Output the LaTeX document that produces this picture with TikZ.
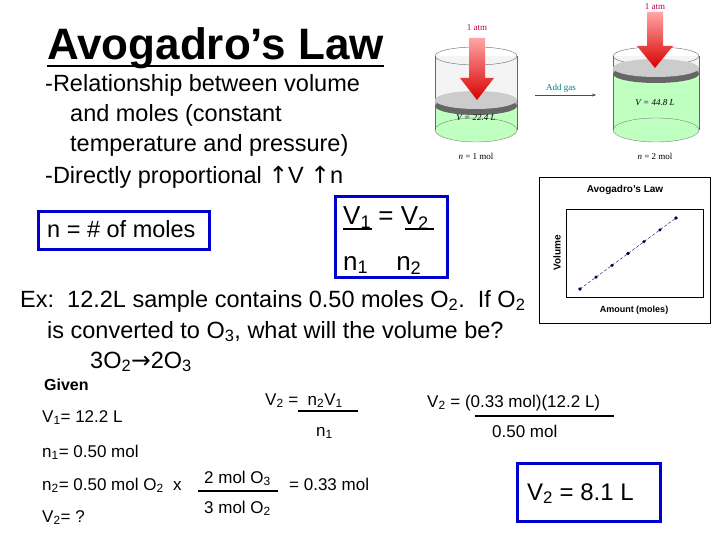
\documentclass[tikz,border=0pt]{standalone}
\usepackage{fontspec}
\setmainfont{Liberation Sans}
\newfontfamily\djv{DejaVu Sans}
\newfontfamily\tms{Liberation Serif}
\usetikzlibrary{arrows.meta}
\newcommand{\sbx}[1]{\textsubscript{#1}}
\begin{document}
\begin{tikzpicture}[x=1pt,y=-1pt,
 big/.style={anchor=base west,inner sep=0,font=\fontsize{23.5}{26}\selectfont},
 sm/.style={anchor=base west,inner sep=0,font=\fontsize{17}{19}\selectfont},
 small/.style={anchor=base,inner sep=0,font=\tms\fontsize{9}{10}\selectfont},
 bluebox/.style={draw=blue!80!black,line width=3pt},
 bar/.style={line width=1.2pt}]
\useasboundingbox (0,0) rectangle (720,540);
% title
\node[anchor=base west,inner sep=0,font=\bfseries\fontsize{44}{46}\selectfont] (title) at (47,60) {Avogadro’s Law};
\draw[line width=2pt] (47,66) -- (title.east |- 0,66);
\node[big] (l1) at (45,92) {-Relationship between volume};
\node[big] (l2) at (70,122) {and moles (constant};
\node[big] (l3) at (70,152) {temperature and pressure)};
\node[big] (l4) at (45,184) {-Directly proportional {\djv↑}V {\djv↑}n};
% boxes
\draw[bluebox] (38,212) rectangle (209,249);
\node[big] (nm) at (47,237) {n = \# of moles};
\draw[bluebox] (335,197) rectangle (447,277);
\node[big,font=\fontsize{26}{28}\selectfont] (v) at (343,225) {V\sbx{1} = V\sbx{2}};
\draw[bar] (343,229) -- (372,229);
\draw[bar] (405,229) -- (434,229);
\node[big,font=\fontsize{26}{28}\selectfont] (nn) at (343,270) {n\sbx{1}\hspace{28pt}n\sbx{2}};
% example
\node[big] (e1) at (20,307) {Ex:\ \ 12.2L sample contains 0.50 moles O\sbx{2}.\ \ If O\sbx{2}};
\node[big] (e2) at (47,338) {is converted to O\sbx{3}, what will the volume be?};
\node[big] (e3) at (90,368) {3O\sbx{2}{\djv→}2O\sbx{3}};
\node[sm,font=\bfseries\fontsize{16}{18}\selectfont] (g) at (44,390) {Given};
\node[sm] (g1) at (42,422) {V\sbx{1}= 12.2 L};
\node[sm] (g2) at (42,457) {n\sbx{1}= 0.50 mol};
\node[sm] (g3) at (42,490) {n\sbx{2}= 0.50 mol O\sbx{2}\ \ x};
\node[sm] (g4) at (42,522) {V\sbx{2}= ?};
\node[sm] (f1) at (204,483) {2 mol O\sbx{3}};
\draw[bar] (198,491) -- (278,491);
\node[sm] (f2) at (204,513) {3 mol O\sbx{2}};
\node[sm] (f3) at (289,490) {= 0.33 mol};
\node[sm] (r1) at (265,405) {V\sbx{2} = \ n\sbx{2}V\sbx{1}};
\draw[bar] (298,411) -- (358,411);
\node[sm] (r2) at (316,436) {n\sbx{1}};
\node[sm] (s1) at (427,407) {V\sbx{2} = (0.33 mol)(12.2 L)};
\draw[bar] (475,416) -- (614,416);
\node[sm] (s2) at (492,437) {0.50 mol};
\draw[bluebox] (517,463) rectangle (660,521);
\node[big,font=\fontsize{24}{26}\selectfont] (ans) at (527,500) {V\sbx{2} = 8.1 L};
% graph
\draw[black] (539,177) rectangle (710,323);
\node[anchor=base,inner sep=0,font=\bfseries\fontsize{10}{12}\selectfont] (gt) at (625,193) {Avogadro's Law};
\draw[black] (566,209) rectangle (703,297);
\node[rotate=90,inner sep=0,font=\bfseries\fontsize{10}{12}\selectfont] (gy) at (557,253) {Volume};
\node[anchor=base,inner sep=0,font=\bfseries\fontsize{9}{11}\selectfont] (gx) at (634,312) {Amount (moles)};
\draw[densely dashed,blue!40!black] (580,289) -- (676,218);
\foreach \i in {0,...,6}{\fill[blue!30!black] ({580+16*\i},{289-11.83*\i}) circle (1.8);}
% cylinders
\foreach \cx/\pis/\w in {476/100/41,656/68/43}{
 \fill[green!25!white] (\cx-\w,\pis) rectangle (\cx+\w,130) ;
 \fill[green!25!white] (\cx,130) ellipse ({\w} and 12);
 \draw[gray] (\cx,130) ellipse ({\w} and 12);
 \fill[gray!15,opacity=.6] (\cx-\w,56) rectangle (\cx+\w,\pis);
 \draw[gray!80!black] (\cx-\w,56) -- (\cx-\w,130) (\cx+\w,56) -- (\cx+\w,130);
 \draw[gray!80!black] (\cx,56) ellipse ({\w} and 9);
 \fill[gray!60] (\cx-\w,\pis) rectangle (\cx+\w,\pis+6);
 \fill[gray!80!black] (\cx,\pis+6) ellipse ({\w} and 9);
 \fill[gray!40] (\cx,\pis) ellipse ({\w} and 9);
}
\shade[top color=red!35,bottom color=red!85!black] (469,38) -- (485,38) -- (485,78) -- (494,78) -- (477,100) -- (460,78) -- (469,78) -- cycle;
\shade[top color=red!35,bottom color=red!85!black] (647,12) -- (663,12) -- (663,46) -- (673,46) -- (655,68) -- (637,46) -- (647,46) -- cycle;
\node[small,text=purple] (a1) at (477,31) {1 atm};
\node[small,text=purple] (a2) at (655,10) {1 atm};
\node[small,font=\tms\itshape\fontsize{9}{10}\selectfont] (va) at (476,121) {V = 22.4 L};
\node[small,font=\tms\itshape\fontsize{9}{10}\selectfont] (vb) at (655,106) {V = 44.8 L};
\node[small] (na) at (476,160) {\textit{n} = 1 mol};
\node[small] (nb) at (655,160) {\textit{n} = 2 mol};
\coordinate (ga) at (535,95); \coordinate (gb) at (596,95);
\draw[-{Stealth[length=4pt]},gray!60!black] (ga) -- (gb);
\node[small,text=teal] (add) at (561,91) {Add gas};
\end{tikzpicture}
\end{document}
